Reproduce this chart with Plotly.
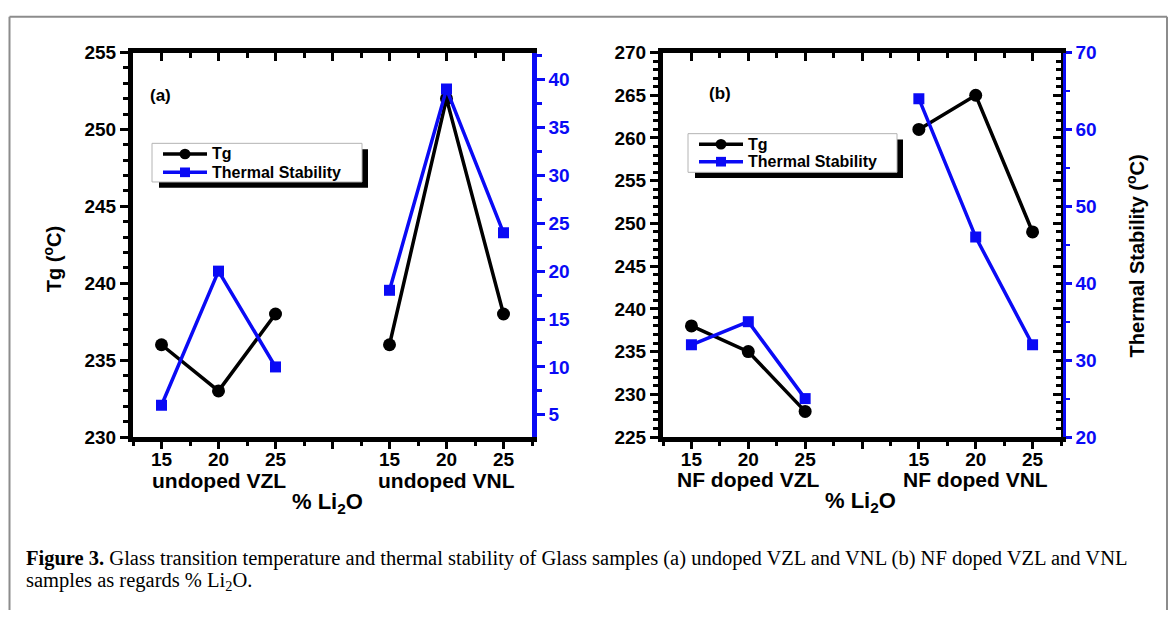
import plotly.graph_objects as go

W, H = 1173, 621

# --- data -------------------------------------------------------------
li2o_pct = ["15", "20", "25"]
x_vzl = [1, 2, 3]          # category slots for the VZL series
x_vnl = [5, 6, 7]          # category slots for the VNL series
tick_slots = [1, 2, 3, 4, 5, 6, 7]
tick_text = li2o_pct + [""] + li2o_pct

undoped_vzl_tg = [236, 233, 238]
undoped_vnl_tg = [236, 252, 238]
undoped_vzl_ts = [6, 20, 10]
undoped_vnl_ts = [18, 39, 24]

nf_vzl_tg = [238, 235, 228]
nf_vnl_tg = [261, 265, 249]
nf_vzl_ts = [32, 35, 25]
nf_vnl_ts = [64, 46, 32]

series_names = ["Tg", "Thermal Stability"]
group_labels_a = ["undoped VZL", "undoped VNL"]
group_labels_b = ["NF doped VZL", "NF doped VNL"]

BLUE = "#0a0af5"
BLACK = "#000000"
SANS = "Liberation Sans"
SERIF = "Liberation Serif"


def px(x):
    return x / W


def py(y):
    return 1 - y / H


def joined(a, b):
    # two groups drawn as one trace, with a break between them
    return a + [None] + b


xs = joined(x_vzl, x_vnl)

fig = go.Figure()


def add_series(y, name, color, symbol, size, xa, ya):
    fig.add_trace(go.Scatter(
        x=xs, y=y, name=name, mode="lines+markers", connectgaps=False,
        line=dict(color=color, width=3.5),
        marker=dict(symbol=symbol, size=size, color=color),
        xaxis=xa, yaxis=ya, showlegend=False))


# panel (a)
add_series(joined(undoped_vzl_tg, undoped_vnl_tg), series_names[0],
           BLACK, "circle", 13, "x", "y")
add_series(joined(undoped_vzl_ts, undoped_vnl_ts), series_names[1],
           BLUE, "square", 11, "x", "y2")
# panel (b)
add_series(joined(nf_vzl_tg, nf_vnl_tg), series_names[0],
           BLACK, "circle", 13, "x2", "y3")
add_series(joined(nf_vzl_ts, nf_vnl_ts), series_names[1],
           BLUE, "square", 11, "x2", "y4")

# empty traces so the tick-only overlay axes get drawn
for xa, ya in [("x3", "y"), ("x4", "y3"), ("x2", "y5")]:
    fig.add_trace(go.Scatter(x=[], y=[], xaxis=xa, yaxis=ya,
                             showlegend=False, hoverinfo="skip"))

tick_font = dict(family=SANS, size=19, color=BLACK, weight="bold")
blue_font = dict(family=SANS, size=19, color=BLUE, weight="bold")

dom_a = [px(133), px(532)]
dom_b = [px(663), px(1061)]
dom_y = [py(442), py(44)]
xr = [0.5, 7.5]


def bottom_x(domain, anchor):
    return dict(
        domain=domain, anchor=anchor, range=xr,
        tickmode="array", tickvals=tick_slots, ticktext=tick_text,
        ticks="outside", ticklen=7, tickwidth=3, tickcolor=BLACK,
        ticklabelstandoff=-6,
        minor=dict(tickmode="linear", tick0=0.5, dtick=1, ticks="outside",
                   ticklen=4, tickwidth=3, tickcolor=BLACK),
        showline=True, linewidth=4.5, linecolor=BLACK, mirror=True,
        showgrid=False, zeroline=False, tickfont=tick_font)


def top_x(over, anchor):
    return dict(
        overlaying=over, anchor=anchor, side="top", range=xr,
        tickmode="array", tickvals=tick_slots, showticklabels=False,
        ticks="inside", ticklen=8, tickwidth=3, tickcolor=BLACK,
        minor=dict(tickmode="linear", tick0=0.5, dtick=1, ticks="inside",
                   ticklen=5, tickwidth=3, tickcolor=BLACK),
        showline=False, showgrid=False, zeroline=False)


def left_y(rng, anchor, mirror):
    return dict(
        domain=dom_y, anchor=anchor, range=rng,
        tickmode="linear", tick0=rng[0], dtick=5,
        ticks="outside", ticklen=8, tickwidth=3, tickcolor=BLACK,
        minor=dict(dtick=1, ticks="outside", ticklen=5, tickwidth=2.5,
                   tickcolor=BLACK),
        showline=True, linewidth=5, linecolor=BLACK, mirror=mirror,
        showgrid=False, zeroline=False, tickfont=tick_font)


fig.update_layout(
    width=W, height=H, autosize=False,
    margin=dict(l=0, r=0, t=0, b=0),
    paper_bgcolor="white", plot_bgcolor="white",
    showlegend=False,
    xaxis=bottom_x(dom_a, "y"),
    xaxis2=bottom_x(dom_b, "y3"),
    xaxis3=top_x("x", "y"),
    xaxis4=top_x("x2", "y3"),
    yaxis=left_y([230, 255], "x", False),
    yaxis2=dict(
        overlaying="y", anchor="x", side="right", range=[2.68, 42.82],
        tickmode="linear", tick0=5, dtick=5,
        ticks="outside", ticklen=8, tickwidth=3, tickcolor=BLUE,
        minor=dict(dtick=2.5, ticks="outside", ticklen=5, tickwidth=2.5,
                   tickcolor=BLUE),
        showline=True, linewidth=4.5, linecolor=BLUE,
        showgrid=False, zeroline=False, tickfont=blue_font),
    yaxis3=left_y([225, 270], "x2", True),
    yaxis4=dict(
        overlaying="y3", anchor="free", position=px(1064), side="right",
        range=[20, 70], tickmode="linear", tick0=20, dtick=10,
        ticks="outside", ticklen=6, tickwidth=2.5, tickcolor=BLUE,
        minor=dict(dtick=5, ticks="outside", ticklen=4, tickwidth=2,
                   tickcolor=BLUE),
        showline=True, linewidth=2.5, linecolor=BLUE,
        showgrid=False, zeroline=False, tickfont=blue_font),
    yaxis5=dict(
        overlaying="y3", anchor="x2", side="right", range=[225, 270],
        tickmode="linear", tick0=225, dtick=5, showticklabels=False,
        ticks="inside", ticklen=8, tickwidth=3, tickcolor=BLACK,
        minor=dict(dtick=1, ticks="inside", ticklen=5, tickwidth=2.5,
                   tickcolor=BLACK),
        showline=False, showgrid=False, zeroline=False),
)

shapes = []
ann = []


def label(text, x, y, size, xref="paper", angle=0, color=BLACK,
          family=SANS, xanchor="center"):
    ann.append(dict(text=text, x=x, y=y, xref=xref, yref="paper",
                    showarrow=False, textangle=angle, xanchor=xanchor,
                    yanchor="middle",
                    font=dict(family=family, size=size, color=color)))


def legend_panel(x0, y0, x1, y1, rows_y, sample_x0, sample_x1):
    """Boxed key with a drop shadow, positioned in pixels."""
    shapes.append(dict(type="rect", xref="paper", yref="paper",
                       x0=px(x0 + 7), x1=px(x1 + 6), y0=py(y1 + 6),
                       y1=py(y0 + 6), fillcolor=BLACK,
                       line=dict(width=0), layer="above"))
    shapes.append(dict(type="rect", xref="paper", yref="paper",
                       x0=px(x0), x1=px(x1), y0=py(y1), y1=py(y0),
                       fillcolor="white", line=dict(color="#b4b4b4", width=1),
                       layer="above"))
    mid = (sample_x0 + sample_x1) / 2
    styles = [(BLACK, "circle"), (BLUE, "square")]
    for name, ry, (color, sym) in zip(series_names, rows_y, styles):
        shapes.append(dict(type="line", xref="paper", yref="paper",
                           x0=px(sample_x0), x1=px(sample_x1),
                           y0=py(ry), y1=py(ry),
                           line=dict(color=color, width=3.5), layer="above"))
        r = 5.5 if sym == "circle" else 5
        shapes.append(dict(type="circle" if sym == "circle" else "rect",
                           xref="paper", yref="paper",
                           x0=px(mid - r), x1=px(mid + r),
                           y0=py(ry + r), y1=py(ry - r),
                           fillcolor=color, line=dict(width=0),
                           layer="above"))
        ann.append(dict(text="<b>" + name + "</b>", x=px(sample_x1 + 3),
                        y=py(ry), xref="paper", yref="paper",
                        showarrow=False, xanchor="left", yanchor="middle",
                        font=dict(family=SANS, size=16, color=BLACK)))


legend_panel(152, 138, 362, 178, [149, 168], 163, 207)
legend_panel(688, 128, 897, 168, [139, 157], 699, 743)

# outer frame (open at the bottom)
frame = dict(color="#8c8c8c", width=2)
shapes.append(dict(type="line", xref="paper", yref="paper",
                   x0=px(9.5), x1=px(9.5), y0=0, y1=py(7), line=frame))
shapes.append(dict(type="line", xref="paper", yref="paper",
                   x0=px(9.5), x1=px(1167), y0=py(7), y1=py(7), line=frame))
shapes.append(dict(type="line", xref="paper", yref="paper",
                   x0=px(1167), x1=px(1167), y0=0, y1=py(7), line=frame))

label("<b>(a)</b>", px(160), py(89), 17)
label("<b>(b)</b>", px(720), py(86), 17)
label("<b>Tg (<sup>o</sup>C)</b>", px(52), py(258), 20, angle=-90)
label("<b>Thermal Stability (<sup>o</sup>C)</b>", px(1135), py(255), 20,
      angle=-90)
label("<b>" + group_labels_a[0] + "</b>", x_vzl[1], py(487), 21, xref="x")
label("<b>" + group_labels_a[1] + "</b>", x_vnl[1], py(487), 21, xref="x")
label("<b>" + group_labels_b[0] + "</b>", x_vzl[1], py(486), 21, xref="x2")
label("<b>" + group_labels_b[1] + "</b>", x_vnl[1], py(486), 21, xref="x2")
label("<b>% Li<sub>2</sub>O</b>", px(327), py(510), 22)
label("<b>% Li<sub>2</sub>O</b>", px(860), py(509), 22)

label("<b>Figure 3.</b> Glass transition temperature and thermal stability "
      "of Glass samples (a) undoped VZL and VNL (b) NF doped VZL and VNL",
      px(24), py(568), 20.5, family=SERIF, xanchor="left")
label("samples as regards % Li<sub>2</sub>O.", px(24), py(591), 20.5,
      family=SERIF, xanchor="left")

fig.update_layout(shapes=shapes, annotations=ann)

fig.write_html("out.html")
